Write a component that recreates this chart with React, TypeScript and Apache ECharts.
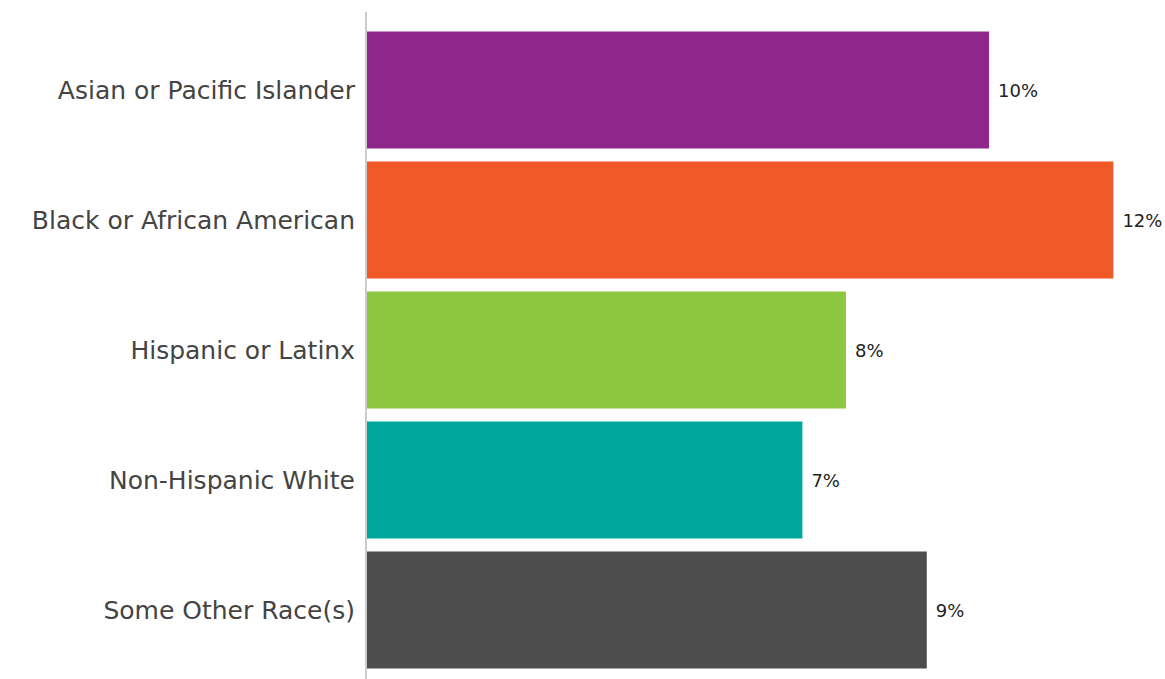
import React, { useEffect, useRef } from "react";
import * as echarts from "echarts";

const categories = [
  "Asian or Pacific Islander",
  "Black or African American",
  "Hispanic or Latinx",
  "Non-Hispanic White",
  "Some Other Race(s)",
];
const values = [10.0, 12.0, 7.7, 7.0, 9.0];
const labels = ["10%", "12%", "8%", "7%", "9%"];
const colors = ["#8E268B", "#F05A28", "#8DC63F", "#00A79D", "#4D4D4D"];

export default function App() {
  const ref = useRef<HTMLDivElement>(null);
  useEffect(() => {
    if (!ref.current) return;
    const chart = echarts.init(ref.current, undefined, { renderer: "svg" });
    const font = "'DejaVu Sans', sans-serif";
    chart.setOption({
      animation: false,
      grid: { left: 367, right: 20.5, top: 25, bottom: 4, containLabel: false },
      xAxis: {
        type: "value",
        min: 0,
        max: 12.5,
        show: false,
      },
      yAxis: {
        type: "category",
        data: categories,
        inverse: true,
        axisLine: { show: false },
        axisTick: { show: false },
        splitLine: { show: false },
        axisLabel: {
          margin: 12,
          fontFamily: font,
          fontSize: 25,
          color: "#444444",
        },
      },
      graphic: [
        {
          type: "line",
          shape: { x1: 366, y1: 12, x2: 366, y2: 679 },
          style: { stroke: "#cccccc", lineWidth: 2 },
          z: 10,
        },
      ],
      series: [
        {
          type: "bar",
          barCategoryGap: "10%",
          data: values.map((v, i) => ({
            value: v,
            itemStyle: { color: colors[i] },
            label: { formatter: labels[i] },
          })),
          label: {
            show: true,
            position: "right",
            distance: 9,
            fontFamily: font,
            fontSize: 18,
            color: "#222222",
          },
        },
      ],
    });
    return () => chart.dispose();
  }, []);
  return (
    <div
      ref={ref}
      style={{ position: "absolute", left: 0, top: 0, width: 1165, height: 679 }}
    />
  );
}
